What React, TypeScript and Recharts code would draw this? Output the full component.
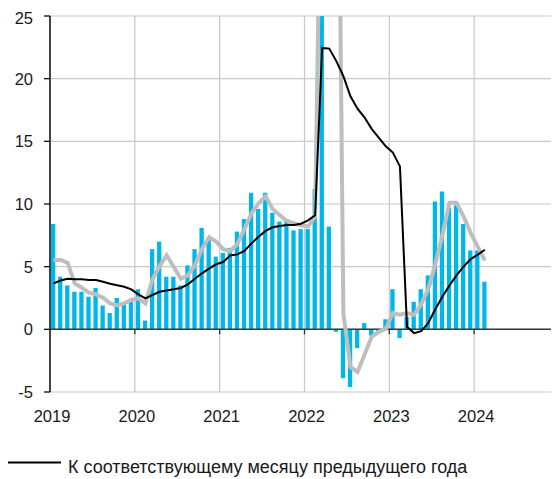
import React from 'react';
import {
  ComposedChart,
  Bar,
  Line,
  XAxis,
  YAxis,
  CartesianGrid,
  ReferenceLine,
  ReferenceDot,
} from 'recharts';

const startYear = 2019;

// monthly change (bars), Jan 2019 .. Feb 2024
const monthlyChange = [
  8.4, 4.2, 3.5, 3.0, 3.0, 2.6, 3.3, 1.9, 1.3, 2.5, 2.0, 2.2,
  3.2, 0.7, 6.4, 7.0, 4.2, 4.2, 3.5, 5.1, 6.4, 8.1, 7.2, 5.8,
  6.1, 6.5, 7.8, 8.8, 10.9, 9.6, 10.9, 9.3, 8.6, 8.8, 7.9, 8.0,
  8.0, 11.2, 40.0, 8.2, -0.2, -3.9, -4.6, -1.5, 0.5, -0.5, -0.3, 0.8,
  3.2, -0.7, 1.0, 2.2, 3.2, 4.3, 10.2, 11.0, 9.7, 9.9, 8.4, 6.3,
  6.3, 3.8,
];

// year-on-year (black line)
const yoy = [
  3.67, 3.9, 4.04, 4.0, 3.99, 3.94, 3.94, 3.8, 3.64, 3.51, 3.4, 3.19,
  2.79, 2.47, 2.74, 3.0, 3.1, 3.19, 3.3, 3.59, 4.04, 4.47, 4.84, 5.19,
  5.37, 5.9, 5.98, 6.25, 6.86, 7.39, 7.85, 8.14, 8.24, 8.32, 8.32, 8.43,
  8.7, 9.1, 22.45, 22.4, 21.4, 20.2, 18.6, 17.6, 16.9, 16.0, 15.3, 14.6,
  14.1, 13.0, 0.2, -0.3, -0.15, 0.5, 1.6, 2.6, 3.5, 4.3, 5.0, 5.6,
  5.95, 6.35,
];

// smoothed (grey line)
const smoothed = [
  5.5, 5.55, 5.3, 3.67, 3.32, 2.93, 2.79, 2.53, 2.07, 1.91, 2.07, 2.34,
  2.47, 2.07, 3.99, 5.05, 5.9, 5.0, 4.04, 4.3, 5.11, 6.4, 7.35, 7.0,
  6.4, 6.25, 6.8, 8.0, 9.25, 10.05, 10.6, 9.6, 9.1, 8.64, 8.48, 8.3,
  8.2, 9.0, 45.0, 55.0, 57.0, 1.3, -3.0, -3.4, -2.0, -0.6, -0.2, 0.05,
  1.3, 1.16, 1.3, 1.16, 2.0, 3.2, 5.2, 7.5, 10.1, 10.1, 9.0, 7.7,
  6.6, 5.5,
];

const yearTicks = [2019, 2020, 2021, 2022, 2023, 2024];
const yTicks = [-5, 0, 5, 10, 15, 20, 25];
const legendLabel = 'К соответствующему месяцу предыдущего года';

const data = monthlyChange.map((v, i) => ({
  t: startYear + (i + 0.5) / 12,
  bar: v,
  yoy: yoy[i],
  sm: smoothed[i],
}));

const FONT = '"Liberation Sans", Arial, sans-serif';

const TickMark = (props: any) => {
  const { cx, cy } = props;
  if (cx == null || cy == null) return null;
  return <line x1={cx} x2={cx} y1={cy} y2={cy + 5} stroke="#333" strokeWidth={1.3} />;
};

export default function App() {
  return (
    <div style={{ position: 'relative', width: 551, height: 471, fontFamily: FONT }}>
      <ComposedChart
        width={551}
        height={420}
        data={data}
        margin={{ top: 8, right: 0, left: 0, bottom: 0 }}
      >
        <CartesianGrid stroke="#c8c8c8" strokeWidth={1.2} />
        <XAxis
          dataKey="t"
          type="number"
          domain={[2019, 2025]}
          ticks={yearTicks}
          allowDataOverflow
          axisLine={false}
          tickLine={false}
          tickSize={6}
          tickMargin={12}
          height={36}
          tick={{ fontSize: 16.5, fill: '#1a1a1a', fontFamily: FONT, dx: 2 }}
        />
        <YAxis
          type="number"
          domain={[-5, 25]}
          ticks={yTicks}
          allowDataOverflow
          width={42}
          axisLine={{ stroke: '#111', strokeWidth: 1.5 }}
          tickLine={{ stroke: '#111', strokeWidth: 1.3 }}
          tickSize={6}
          tickMargin={11}
          tick={{ fontSize: 16.5, fill: '#1a1a1a', fontFamily: FONT }}
        />
        <Bar dataKey="bar" fill="#00b7eb" barSize={4.3} isAnimationActive={false} />
        <ReferenceLine y={0} stroke="#3a3a3a" strokeWidth={1.5} />
        {yearTicks.slice(1).map((yr) => (
          <ReferenceDot key={yr} x={yr} y={0} r={0} shape={TickMark} />
        ))}
        <Line
          dataKey="sm"
          type="linear"
          stroke="#bebebe"
          strokeWidth={4}
          dot={false}
          activeDot={false}
          isAnimationActive={false}
        />
        <Line
          dataKey="yoy"
          type="linear"
          stroke="#000"
          strokeWidth={2}
          dot={false}
          activeDot={false}
          isAnimationActive={false}
        />
      </ComposedChart>
      <svg width={551} height={51} style={{ position: 'absolute', left: 0, top: 420 }}>
        <line x1={0} x2={53} y1={34.5} y2={34.5} stroke="#000" strokeWidth={2} />
        <text x={60} y={45} fontSize={18} fill="#1a1a1a" fontFamily={FONT}>
          {legendLabel}
        </text>
      </svg>
    </div>
  );
}
